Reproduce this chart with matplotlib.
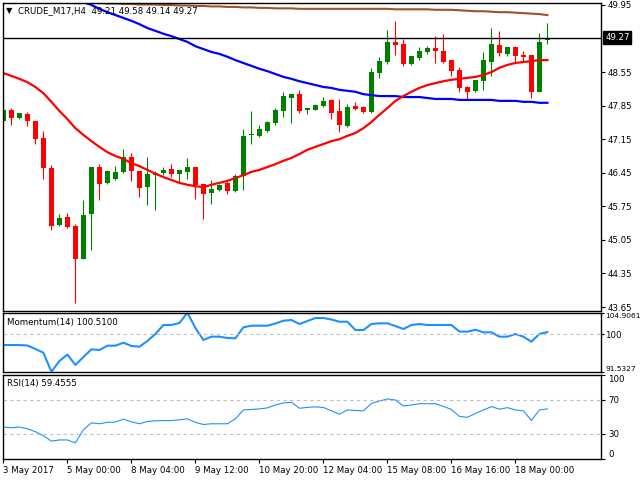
# Bibliotecas
import numpy as np
import matplotlib.pyplot as plt
from matplotlib.transforms import blended_transform_factory

plt.rcParams['font.family'] = 'DejaVu Sans'

# Velas H4 do CRUDE_M17 (abertura, maxima, minima, fechamento)
abertura = [47.54, 47.76, 47.60, 47.68, 47.53, 47.18, 46.55, 45.37, 45.53, 45.35,
            44.66, 45.58, 46.57, 46.24, 46.32, 46.46, 46.78, 46.49, 46.16, 46.40,
            46.45, 46.53, 46.43, 46.47, 46.57, 46.22, 46.03, 46.09, 46.24, 46.07,
            46.38, 47.23, 47.22, 47.32, 47.49, 47.74, 48.01, 48.09, 47.77, 47.76,
            47.84, 47.97, 47.74, 47.43, 47.84, 47.82, 47.72, 48.53, 48.76, 49.18,
            49.14, 48.72, 48.84, 48.97, 49.05, 48.99, 48.80, 48.59, 48.24, 48.16,
            48.36, 48.76, 49.12, 48.93, 49.07, 48.91, 48.91, 48.14, 49.21]
maxima = [48.00, 47.80, 47.70, 47.72, 47.53, 47.32, 46.61, 45.59, 45.61, 45.38,
          45.88, 46.57, 46.63, 46.51, 46.59, 46.95, 46.86, 46.49, 46.78, 46.48,
          46.57, 46.63, 46.51, 46.76, 46.57, 46.22, 46.30, 46.22, 46.26, 46.43,
          47.36, 47.74, 47.45, 47.53, 47.80, 48.14, 48.09, 48.18, 47.80, 47.88,
          48.03, 47.99, 47.99, 47.88, 47.93, 47.84, 48.64, 48.87, 49.43, 49.62,
          49.24, 48.89, 49.07, 49.09, 49.30, 49.35, 48.80, 48.66, 48.26, 48.39,
          48.97, 49.47, 49.41, 49.07, 49.09, 48.99, 48.91, 49.37, 49.58]
minima = [47.40, 47.45, 47.58, 47.43, 47.06, 46.31, 45.26, 45.33, 45.30, 43.74,
          44.66, 44.84, 45.89, 46.22, 46.30, 46.44, 46.28, 45.95, 45.78, 45.68,
          46.40, 46.36, 46.26, 46.32, 45.90, 45.49, 45.80, 46.06, 46.01, 46.05,
          46.09, 47.05, 47.20, 47.30, 47.45, 47.61, 47.49, 47.70, 47.68, 47.76,
          47.82, 47.57, 47.30, 47.41, 47.76, 47.70, 47.70, 48.43, 48.72, 48.91,
          48.68, 48.70, 48.80, 48.93, 48.74, 48.74, 48.47, 48.13, 47.99, 48.13,
          48.18, 48.47, 48.89, 48.89, 48.76, 48.78, 48.01, 48.14, 49.14]
fechamento = [47.76, 47.60, 47.70, 47.52, 47.16, 46.54, 45.35, 45.51, 45.32, 44.66,
              45.57, 46.57, 46.22, 46.49, 46.47, 46.78, 46.49, 46.14, 46.42, 46.44,
              46.51, 46.43, 46.51, 46.57, 46.20, 46.01, 46.11, 46.20, 46.07, 46.38,
              47.22, 47.25, 47.36, 47.51, 47.76, 48.05, 48.09, 47.74, 47.79, 47.86,
              47.95, 47.70, 47.45, 47.82, 47.78, 47.72, 48.55, 48.78, 49.18, 49.12,
              48.72, 48.89, 48.99, 49.05, 48.99, 48.76, 48.57, 48.22, 48.14, 48.39,
              48.80, 49.14, 48.95, 49.07, 48.89, 48.87, 48.14, 49.18, 49.27]

# Medias moveis
media_vermelha = [48.53, 48.47, 48.41, 48.34, 48.24, 48.11, 47.93, 47.74, 47.57, 47.38,
                  47.24, 47.11, 46.99, 46.88, 46.80, 46.74, 46.65, 46.59, 46.51, 46.43,
                  46.36, 46.30, 46.24, 46.20, 46.17, 46.15, 46.20, 46.24, 46.28, 46.34,
                  46.40, 46.47, 46.51, 46.57, 46.63, 46.70, 46.76, 46.84, 46.93, 46.99,
                  47.05, 47.11, 47.15, 47.22, 47.28, 47.38, 47.51, 47.66, 47.80, 47.95,
                  48.05, 48.14, 48.22, 48.28, 48.32, 48.36, 48.39, 48.41, 48.43, 48.45,
                  48.49, 48.55, 48.64, 48.70, 48.74, 48.76, 48.78, 48.80, 48.80]
media_azul = [50.78, 50.70, 50.62, 50.53, 50.45, 50.37, 50.30, 50.22, 50.16, 50.08,
              50.01, 49.95, 49.87, 49.80, 49.74, 49.68, 49.62, 49.55, 49.47, 49.41,
              49.35, 49.30, 49.24, 49.18, 49.09, 49.03, 48.97, 48.93, 48.87, 48.80,
              48.74, 48.68, 48.62, 48.57, 48.51, 48.45, 48.41, 48.36, 48.32, 48.28,
              48.24, 48.22, 48.18, 48.16, 48.14, 48.09, 48.07, 48.05, 48.05, 48.05,
              48.03, 48.03, 48.03, 48.01, 47.99, 47.99, 47.99, 47.97, 47.97, 47.97,
              47.97, 47.97, 47.95, 47.95, 47.95, 47.93, 47.93, 47.91, 47.91]
media_marrom = [50.03, 50.03, 50.02, 50.02, 50.01, 50.01, 50.00, 50.00, 50.00, 49.99,
                49.99, 49.99, 49.99, 49.98, 49.98, 49.97, 49.97, 49.96, 49.96, 49.96,
                49.95, 49.95, 49.94, 49.94, 49.93, 49.93, 49.92, 49.92, 49.91, 49.91,
                49.90, 49.90, 49.89, 49.89, 49.88, 49.88, 49.88, 49.87, 49.87, 49.87,
                49.87, 49.87, 49.87, 49.87, 49.87, 49.87, 49.87, 49.87, 49.87, 49.86,
                49.86, 49.86, 49.86, 49.86, 49.85, 49.85, 49.85, 49.84, 49.83, 49.82,
                49.82, 49.81, 49.80, 49.80, 49.79, 49.78, 49.77, 49.76, 49.74]

# Indicadores
momentum = [97.58, 97.58, 97.58, 97.47, 96.68, 95.84, 91.53, 93.96, 95.43, 93.05,
            94.86, 96.61, 96.45, 97.43, 97.43, 98.11, 97.36, 97.20, 98.49, 100.08,
            102.12, 102.12, 102.57, 104.91, 101.44, 98.72, 99.47, 99.47, 99.17, 99.10,
            101.60, 101.96, 101.96, 101.96, 102.46, 103.09, 103.25, 102.34, 103.02, 103.70,
            103.70, 103.36, 102.86, 102.86, 100.98, 100.98, 102.34, 102.50, 102.50, 101.89,
            101.21, 102.12, 102.34, 102.12, 102.12, 102.12, 102.12, 100.64, 100.60, 101.05,
            100.46, 100.46, 99.47, 99.47, 100.08, 99.47, 98.33, 100.08, 100.51]
rsi = [37.9, 37.1, 37.9, 35.9, 32.4, 27.6, 21.2, 22.6, 22.6, 19.1,
       34.7, 42.9, 41.8, 43.5, 43.8, 47.3, 44.1, 41.8, 44.5, 45.3,
       45.6, 45.6, 46.5, 47.6, 43.5, 40.9, 41.8, 41.8, 41.8, 47.6,
       58.2, 58.8, 59.4, 60.6, 64.1, 66.5, 67.3, 60.2, 61.2, 61.8,
       61.2, 57.1, 53.2, 58.2, 57.6, 57.1, 65.9, 68.8, 71.2, 70.0,
       62.9, 64.1, 65.6, 65.6, 65.6, 62.4, 58.8, 50.6, 49.4, 54.1,
       58.2, 62.1, 59.1, 60.9, 58.2, 57.1, 45.6, 58.2, 59.46]

rotulos_x = ['3 May 2017', '5 May 00:00', '8 May 04:00', '9 May 12:00', '10 May 20:00',
             '12 May 04:00', '15 May 08:00', '16 May 16:00', '18 May 00:00']
ticks_preco = [43.65, 44.35, 45.05, 45.75, 46.45, 47.15, 47.85, 48.55, 49.95]
ultimo = 49.27

W, H = 640, 480
fig = plt.figure(figsize=(6.4, 4.8), dpi=100)

def caixa(x0, y0, x1, y1):
    return [x0 / W, 1 - y1 / H, (x1 - x0) / W, (y1 - y0) / H]

ax1 = fig.add_axes(caixa(3, 2.5, 601, 311))
ax2 = fig.add_axes(caixa(3, 312.7, 601, 371.7), sharex=ax1)
ax3 = fig.add_axes(caixa(3, 374.7, 601, 459), sharex=ax1)

fs = 6.2
for ax in (ax1, ax2, ax3):
    for s in ax.spines.values():
        s.set_color('black')
        s.set_linewidth(1)
    ax.yaxis.tick_right()
    ax.tick_params(axis='y', length=3, width=0.8, pad=2, labelsize=fs, colors='black')
    ax.tick_params(axis='x', length=0, labelbottom=False)

# Candles
x = np.arange(len(abertura))
o = np.array(abertura)
c = np.array(fechamento)
cores = np.where(c >= o, '#008000', '#ff0000')
ax1.vlines(x, minima, maxima, colors=cores, linewidth=0.8)
corpo = np.maximum(np.abs(c - o), 0.025)
ax1.bar(x, corpo, bottom=np.minimum(o, c), width=0.62, color=cores, linewidth=0)

ax1.plot(x, media_marrom, color='#a0522d', lw=1.5)
ax1.plot(x, media_azul, color='#0000ff', lw=1.6)
ax1.plot(x, media_vermelha, color='#ff0000', lw=1.6)
ax1.axhline(ultimo, color='black', lw=1)

ax1.set_ylim(43.567, 50.002)
ax1.set_yticks(ticks_preco)
ax1.set_yticklabels([f'{v:.2f}' for v in ticks_preco])
trans = blended_transform_factory(ax1.transAxes, ax1.transData)
ax1.annotate(f'{ultimo:.2f}', xy=(1, ultimo), xycoords=trans, xytext=(3, 0),
             textcoords='offset points', va='center', ha='left', color='white', fontsize=fs,
             bbox=dict(boxstyle='square,pad=0.2', fc='black', ec='black'))
ax1.set_xlim(-0.05, 74.7)

# Momentum
ax2.plot(x, momentum, color='#1e90ff', lw=1.5)
ax2.axhline(100, color='#c0c0c0', lw=0.8, ls=(0, (3, 3)))
ax2.set_ylim(91.5327, 104.9061)
ax2.set_yticks([91.5327, 100, 104.9061])
ax2.set_yticklabels(['91.5327', '100', '104.9061'])
ax2.tick_params(axis='y', length=2, pad=1, labelsize=5.4)
tk = ax2.yaxis.get_major_ticks()
tk[0].label2.set_va('bottom')
tk[1].label2.set_fontsize(fs)
tk[2].label2.set_va('top')

# RSI
ax3.plot(x, rsi, color='#1e90ff', lw=0.8)
for nivel in (30, 70):
    ax3.axhline(nivel, color='#c0c0c0', lw=0.8, ls=(0, (3, 3)))
ax3.set_ylim(0, 100)
ax3.set_yticks([0, 30, 70, 100])
ax3.set_yticklabels(['0', '30', '70', '100'])
tk = ax3.yaxis.get_major_ticks()
tk[0].label2.set_va('bottom')
tk[3].label2.set_va('top')

ax3.set_xticks(np.arange(0, len(x), 8))
ax3.set_xticklabels(rotulos_x, ha='left')
ax3.tick_params(axis='x', length=3, width=0.8, pad=2, labelbottom=True, labelsize=fs)

# Textos
fig.text(9.5 / W, 1 - 10.5 / H, '\u25bc', fontsize=6, ha='center', va='center')
fig.text(18 / W, 1 - 10.7 / H, 'CRUDE_M17,H4  49.21 49.58 49.14 49.27', fontsize=fs, va='center')
fig.text(7 / W, 1 - 322 / H, 'Momentum(14) 100.5100', fontsize=fs, va='center')
fig.text(7 / W, 1 - 383.5 / H, 'RSI(14) 59.4555', fontsize=fs, va='center')

fig.savefig('out.png', dpi=100)
